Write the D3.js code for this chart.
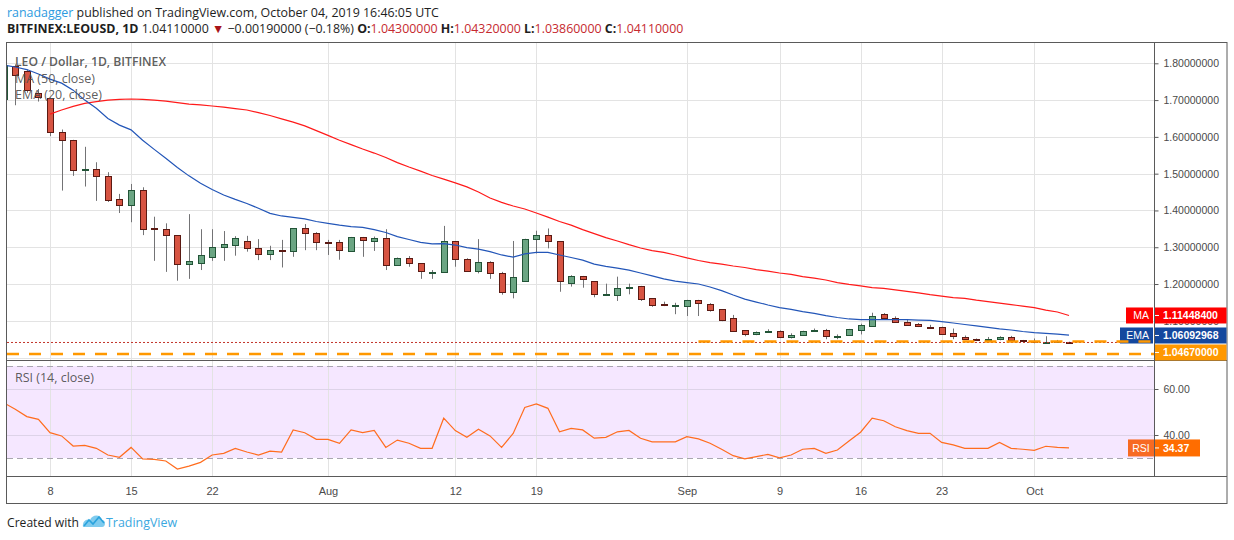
<!DOCTYPE html>
<html>
<head>
<meta charset="utf-8">
<script src="https://cdn.jsdelivr.net/npm/d3@7"></script>
<style>
  body { margin: 0; background: #fff; }
  svg { display: block; }
</style>
</head>
<body>
<svg id="chart" width="1234" height="540"></svg>
<script>
// ---- data ----
const dates = [
  "2019-07-04","2019-07-05","2019-07-06","2019-07-07","2019-07-08","2019-07-09","2019-07-10","2019-07-11","2019-07-12","2019-07-13",
  "2019-07-14","2019-07-15","2019-07-16","2019-07-17","2019-07-18","2019-07-19","2019-07-20","2019-07-21","2019-07-22","2019-07-23",
  "2019-07-24","2019-07-25","2019-07-26","2019-07-27","2019-07-28","2019-07-29","2019-07-30","2019-07-31",
  "2019-08-01","2019-08-02","2019-08-03","2019-08-04","2019-08-05","2019-08-06","2019-08-07","2019-08-08","2019-08-09","2019-08-10",
  "2019-08-11","2019-08-12","2019-08-13","2019-08-14","2019-08-15","2019-08-16","2019-08-17","2019-08-18","2019-08-19","2019-08-20",
  "2019-08-21","2019-08-22","2019-08-23","2019-08-24","2019-08-25","2019-08-26","2019-08-27","2019-08-28","2019-08-29","2019-08-30","2019-08-31",
  "2019-09-01","2019-09-02","2019-09-03","2019-09-04","2019-09-05","2019-09-06","2019-09-07","2019-09-08","2019-09-09","2019-09-10",
  "2019-09-11","2019-09-12","2019-09-13","2019-09-14","2019-09-15","2019-09-16","2019-09-17","2019-09-18","2019-09-19","2019-09-20",
  "2019-09-21","2019-09-22","2019-09-23","2019-09-24","2019-09-25","2019-09-26","2019-09-27","2019-09-28","2019-09-29","2019-09-30",
  "2019-10-01","2019-10-02","2019-10-03","2019-10-04"
];

const open = [
  1.703,1.793,1.780,1.718,1.705,1.612,1.591,1.511,1.512,1.493,
  1.431,1.414,1.455,1.352,1.349,1.332,1.253,1.256,1.275,1.301,
  1.307,1.316,1.297,1.281,1.293,1.289,1.351,1.338,
  1.314,1.313,1.290,1.327,1.315,1.324,1.251,1.270,1.256,1.232,
  1.232,1.316,1.267,1.235,1.260,1.229,1.177,1.207,1.322,1.332,
  1.316,1.202,1.221,1.207,1.170,1.171,1.190,1.194,1.161,1.146,1.140,
  1.141,1.156,1.147,1.131,1.107,1.074,1.063,1.069,1.072,1.056,
  1.061,1.071,1.074,1.057,1.060,1.076,1.086,1.119,1.109,1.098,
  1.091,1.084,1.083,1.066,1.055,1.051,1.049,1.050,1.055,1.047,
  1.044,1.040,1.043,1.0430
];
const high = [
  1.800,1.797,1.783,1.730,1.707,1.620,1.592,1.573,1.531,1.504,
  1.445,1.472,1.463,1.383,1.365,1.333,1.390,1.349,1.349,1.344,
  1.330,1.331,1.322,1.304,1.320,1.352,1.363,1.341,
  1.320,1.320,1.328,1.328,1.329,1.349,1.272,1.276,1.257,1.238,
  1.358,1.317,1.270,1.322,1.262,1.233,1.317,1.323,1.345,1.351,
  1.317,1.224,1.222,1.208,1.201,1.220,1.201,1.195,1.162,1.152,1.149,
  1.157,1.157,1.148,1.132,1.116,1.075,1.071,1.077,1.074,1.066,
  1.073,1.079,1.078,1.063,1.078,1.092,1.122,1.121,1.112,1.102,
  1.094,1.089,1.084,1.079,1.060,1.052,1.056,1.058,1.059,1.048,
  1.052,1.058,1.048,1.0432
];
const low = [
  1.690,1.686,1.720,1.696,1.602,1.454,1.494,1.465,1.426,1.423,
  1.393,1.368,1.333,1.263,1.233,1.209,1.214,1.238,1.263,1.263,
  1.277,1.288,1.265,1.265,1.245,1.274,1.292,1.292,
  1.279,1.266,1.288,1.274,1.290,1.238,1.250,1.247,1.214,1.214,
  1.231,1.247,1.235,1.229,1.214,1.171,1.161,1.206,1.283,1.297,
  1.179,1.193,1.190,1.164,1.169,1.154,1.172,1.154,1.138,1.140,1.118,
  1.113,1.113,1.125,1.099,1.072,1.058,1.061,1.068,1.053,1.052,
  1.060,1.070,1.050,1.050,1.059,1.063,1.085,1.105,1.097,1.086,
  1.083,1.078,1.064,1.050,1.048,1.048,1.044,1.047,1.043,1.042,
  1.039,1.038,1.040,1.0386
];
const close = [
  1.795,1.768,1.729,1.708,1.613,1.591,1.509,1.513,1.493,1.429,
  1.414,1.455,1.350,1.349,1.332,1.253,1.262,1.278,1.302,1.308,
  1.325,1.296,1.280,1.293,1.291,1.351,1.338,1.313,
  1.311,1.290,1.327,1.318,1.324,1.251,1.270,1.256,1.233,1.234,
  1.316,1.267,1.235,1.259,1.229,1.177,1.218,1.322,1.332,1.315,
  1.207,1.221,1.213,1.171,1.173,1.190,1.193,1.158,1.141,1.144,1.142,
  1.156,1.147,1.130,1.100,1.073,1.062,1.069,1.073,1.055,1.061,
  1.071,1.075,1.058,1.060,1.077,1.089,1.114,1.109,1.099,1.090,
  1.085,1.083,1.065,1.059,1.050,1.050,1.051,1.055,1.047,1.043,
  1.040,1.043,1.044,1.0411
];

// MA 50 starts on Jul 8
const maStart = "2019-07-08";
const ma50 = [
  1.662,1.673,1.683,1.691,1.696,1.700,1.702,1.703,1.702,1.700,
  1.697,1.693,1.689,1.687,1.684,1.681,1.677,1.673,1.666,1.658,
  1.649,1.640,1.630,1.617,1.604,1.591,1.579,1.567,1.556,1.544,
  1.530,1.518,1.507,1.495,1.485,1.475,1.464,1.450,1.434,1.422,
  1.412,1.404,1.393,1.382,1.370,1.360,1.348,1.337,1.326,1.317,
  1.307,1.298,1.291,1.286,1.279,1.271,1.264,1.258,1.254,1.249,
  1.245,1.239,1.235,1.230,1.226,1.220,1.216,1.211,1.204,1.199,
  1.195,1.190,1.188,1.184,1.180,1.176,1.171,1.167,1.163,1.161,
  1.156,1.152,1.148,1.144,1.140,1.136,1.129,1.124,1.114484
];

// EMA 20, one value per date
const ema20 = [
  1.795,1.790,1.783,1.771,
  1.757,1.746,1.727,1.700,1.678,1.650,1.632,1.619,1.591,1.566,
  1.542,1.517,1.494,1.474,1.457,1.442,1.430,1.419,1.406,1.392,
  1.385,1.381,1.377,1.370,1.365,1.360,1.356,1.354,1.348,1.340,
  1.329,1.321,1.313,1.309,1.310,1.306,1.299,1.295,1.288,1.279,
  1.273,1.282,1.286,1.286,1.279,1.272,1.265,1.254,1.248,1.243,
  1.238,1.230,1.222,1.214,1.208,1.204,1.200,1.192,1.182,1.170,
  1.159,1.151,1.143,1.136,1.131,1.125,1.120,1.114,1.109,1.105,
  1.103,1.103,1.103,1.103,1.103,1.102,1.101,1.098,1.094,1.090,
  1.086,1.082,1.078,1.075,1.071,1.068,1.066,1.064,1.06092968
];

// RSI 14, one value per date
const rsi14 = [
  54.0,51.2,48.0,46.8,
  41.0,39.6,35.2,35.5,34.2,31.3,30.3,34.6,29.6,29.4,
  28.7,25.2,26.5,28.1,31.3,32.0,34.2,32.6,31.3,33.0,
  32.6,42.2,41.0,38.1,38.1,36.4,42.2,41.0,42.0,34.6,
  37.8,36.4,34.2,34.2,47.3,41.9,39.0,42.5,39.6,34.6,
  40.7,52.0,53.5,51.6,41.4,42.9,42.2,38.6,39.0,41.4,
  42.0,38.6,37.0,37.0,37.0,39.3,38.3,36.4,33.8,31.0,
  29.6,30.6,31.6,30.1,31.3,33.8,34.2,32.0,33.5,37.4,
  41.2,47.3,46.2,43.6,41.9,40.7,40.7,36.8,35.7,34.2,
  34.2,34.2,36.8,34.2,33.8,33.3,35.1,34.6,34.37
];

// horizontal drawings: support ray from Sep 2 and a lower full-width line
const supportLevel = 1.0467;
const supportFrom = "2019-09-02";
const lowerLevel = 1.0096;
const lastPrice = 1.0411;

// axis ticks
const tickDates = ["2019-07-08","2019-07-15","2019-07-22","2019-08-01","2019-08-12","2019-08-19",
                   "2019-09-01","2019-09-09","2019-09-16","2019-09-23","2019-10-01"];
const tickLabels = ["8","15","22","Aug","12","19","Sep","9","16","23","Oct"];
const priceTicks = [1.1, 1.2, 1.3, 1.4, 1.5, 1.6, 1.7, 1.8];
const priceGrid = [1.0, 1.1, 1.2, 1.3, 1.4, 1.5, 1.6, 1.7, 1.8];
const rsiTicks = [40, 60];

// ---- layout ----
const L = 7, R = 1154, RA = 1227;
const mainTop = 42, mainBot = 359.5, rsiBot = 476, axisBot = 503;

const parse = d3.utcParse("%Y-%m-%d");
const days = dates.map(parse);

const x = d3.scaleUtc()
  .domain([parse("2019-07-08"), parse("2019-10-04")])
  .range([50, 1069]);
const y = d3.scaleLinear().domain([1.0, 1.8]).range([357.6, 63.3]);
const yR = d3.scaleLinear().domain([30, 70]).range([458, 366]);

const svg = d3.select("#chart");
const defs = svg.append("defs");
defs.append("clipPath").attr("id", "clipMain")
  .append("rect").attr("x", L).attr("y", mainTop).attr("width", R - L).attr("height", mainBot - mainTop);
defs.append("clipPath").attr("id", "clipRsi")
  .append("rect").attr("x", L).attr("y", mainBot).attr("width", R - L).attr("height", rsiBot - mainBot);

const FONT = "'Open Sans', 'Liberation Sans', sans-serif";
const AXF = "'Liberation Sans', Arial, sans-serif";

// ---- header: one text per line, pieces as tspans ----
function line(yp, parts) {
  const t = svg.append("text")
    .attr("x", 7).attr("y", yp)
    .style("font-family", FONT).style("font-size", "12.4px")
    .style("fill", "#1e1e1e");
  parts.forEach(p => {
    t.append("tspan")
      .style("fill", p[1] || "#1e1e1e")
      .style("font-weight", p[2] || 400)
      .text(p[0]);
  });
}
line(17, [
  ["ranadagger", "#2e9be0"],
  [" published on TradingView.com, October 04, 2019 16:46:05 UTC"]
]);
line(33, [
  ["BITFINEX:LEOUSD, 1D", null, 700],
  [" 1.04110000 "],
  ["\u25BC", "#a8141a"],
  [" \u22120.00190000 (\u22120.18%) "],
  ["O:", null, 700], ["1.04300000 ", "#c62a2f"],
  ["H:", null, 700], ["1.04320000 ", "#c62a2f"],
  ["L:", null, 700], ["1.03860000 ", "#c62a2f"],
  ["C:", null, 700], ["1.04110000", "#c62a2f"]
]);

// ---- backgrounds and grid ----
// RSI band 30..70
svg.append("rect")
  .attr("x", L).attr("width", R - L)
  .attr("y", yR(70)).attr("height", yR(30) - yR(70))
  .attr("fill", "rgba(153,21,255,0.1)");

const tickDays = tickDates.map(parse);
svg.selectAll(".vgrid").data(tickDays).enter()
  .append("line").attr("class", "vgrid")
  .attr("x1", d => Math.round(x(d)) + 0.5).attr("x2", d => Math.round(x(d)) + 0.5)
  .attr("y1", mainTop).attr("y2", rsiBot)
  .attr("stroke", "#e3e3e3").attr("stroke-width", 1);

svg.selectAll(".hgrid").data(priceGrid).enter()
  .append("line").attr("class", "hgrid")
  .attr("x1", L).attr("x2", R)
  .attr("y1", d => Math.round(y(d)) + 0.5).attr("y2", d => Math.round(y(d)) + 0.5)
  .attr("stroke", "#e3e3e3");

svg.selectAll(".rgrid").data(rsiTicks).enter()
  .append("line").attr("class", "rgrid")
  .attr("x1", L).attr("x2", R)
  .attr("y1", d => Math.round(yR(d)) + 0.5).attr("y2", d => Math.round(yR(d)) + 0.5)
  .attr("stroke", "#ddd3e8");

svg.selectAll(".rband").data([70, 30]).enter()
  .append("line").attr("class", "rband")
  .attr("x1", L).attr("x2", R)
  .attr("y1", d => Math.round(yR(d)) + 0.5).attr("y2", d => Math.round(yR(d)) + 0.5)
  .attr("stroke", "#a9a6b0").attr("stroke-dasharray", "6,4");

// ---- candles ----
const candles = days.map((d, i) => ({ d: d, o: open[i], h: high[i], l: low[i], c: close[i] }));
const main = svg.append("g").attr("clip-path", "url(#clipMain)");

main.selectAll(".wick").data(candles).enter()
  .append("line").attr("class", "wick")
  .attr("x1", d => Math.round(x(d.d)) + 0.5).attr("x2", d => Math.round(x(d.d)) + 0.5)
  .attr("y1", d => y(d.h)).attr("y2", d => y(d.l))
  .attr("stroke", "#737375").attr("stroke-width", 1);

main.selectAll(".body").data(candles).enter()
  .append("rect").attr("class", "body")
  .attr("x", d => Math.round(x(d.d)) - 2.5)
  .attr("width", 6)
  .attr("y", d => Math.round(y(Math.max(d.o, d.c))) + 0.5)
  .attr("height", d => Math.max(1, Math.round(Math.abs(y(d.o) - y(d.c)))))
  .attr("fill", d => d.c >= d.o ? "#6ba583" : "#d75442")
  .attr("stroke", d => d.c >= d.o ? "#225437" : "#5b1a13")
  .attr("stroke-width", 1);

// ---- moving averages ----
const maFirst = dates.indexOf(maStart);
const maLine = d3.line().x((d, i) => x(days[i + maFirst])).y(d => y(d));
main.append("path").datum(ma50)
  .attr("d", maLine)
  .attr("fill", "none").attr("stroke", "#ff1a1a").attr("stroke-width", 1.2);

const emaLine = d3.line().x((d, i) => x(days[i])).y(d => y(d));
main.append("path").datum(ema20)
  .attr("d", emaLine)
  .attr("fill", "none").attr("stroke", "#2356b8").attr("stroke-width", 1.2);

// last price dotted line
main.append("line")
  .attr("x1", L).attr("x2", R)
  .attr("y1", y(lastPrice)).attr("y2", y(lastPrice))
  .attr("stroke", "#c2342a").attr("stroke-dasharray", "2,2");

// ---- legend texts ----
function legend(yp, str, w, weight) {
  svg.append("text")
    .attr("x", 15).attr("y", yp)
    .attr("textLength", w).attr("lengthAdjust", "spacingAndGlyphs")
    .style("font-family", FONT).style("font-size", "13px")
    .style("font-weight", weight || 400)
    .style("fill", "#4a4a4a").style("fill-opacity", 0.9)
    .text(str);
}
legend(66, "LEO / Dollar, 1D, BITFINEX", 151, 600);
legend(82.5, "MA (50, close)", 80);
legend(99, "EMA (20, close)", 87);
legend(382, "RSI (14, close)", 79);

// ---- RSI line ----
const rsiG = svg.append("g").attr("clip-path", "url(#clipRsi)");
rsiG.append("path").datum(rsi14)
  .attr("d", d3.line().x((d, i) => x(days[i])).y(d => yR(d)))
  .attr("fill", "none").attr("stroke", "#ff6d1f").attr("stroke-width", 1.2);

// ---- frame ----
svg.append("rect")
  .attr("x", 6.5).attr("y", mainTop + 0.5)
  .attr("width", RA - 6.5).attr("height", axisBot - mainTop)
  .attr("fill", "none").attr("stroke", "#5a5a5a");
[mainBot, rsiBot].forEach(v => {
  svg.append("line").attr("x1", 6.5).attr("x2", RA).attr("y1", Math.round(v) + 0.5).attr("y2", Math.round(v) + 0.5)
    .attr("stroke", "#5a5a5a");
});
svg.append("line").attr("x1", R + 0.5).attr("x2", R + 0.5).attr("y1", mainTop).attr("y2", rsiBot)
  .attr("stroke", "#5a5a5a");

// ---- axes ----
const priceAxis = d3.axisRight(y).tickValues(priceTicks).tickSize(4).tickPadding(5)
  .tickFormat(d3.format(".8f"));
const pa = svg.append("g").attr("transform", `translate(${R + 0.5},0)`).call(priceAxis);
pa.select(".domain").remove();
pa.selectAll("line").attr("stroke", "#5a5a5a");
pa.selectAll("text").style("font-family", AXF).style("font-size", "10.5px").style("fill", "#4a4a4a");

const rsiAxis = d3.axisRight(yR).tickValues(rsiTicks).tickSize(4).tickPadding(5)
  .tickFormat(d3.format(".2f"));
const ra = svg.append("g").attr("transform", `translate(${R + 0.5},0)`).call(rsiAxis);
ra.select(".domain").remove();
ra.selectAll("line").attr("stroke", "#5a5a5a");
ra.selectAll("text").style("font-family", AXF).style("font-size", "10.5px").style("fill", "#4a4a4a");

const timeAxis = d3.axisBottom(x).tickValues(tickDays).tickSize(0).tickPadding(10)
  .tickFormat((d, i) => tickLabels[i]);
const ta = svg.append("g").attr("transform", `translate(0,${rsiBot + 1})`).call(timeAxis);
ta.select(".domain").remove();
ta.selectAll("text").style("font-family", AXF).style("font-size", "11px").style("fill", "#4a4a4a");

// ---- value labels on the price scale ----
function tag(yc, txt, bg, name, nameX) {
  svg.append("rect").attr("x", R + 1).attr("y", yc - 8).attr("width", RA - R - 1.5).attr("height", 16).attr("fill", bg);
  svg.append("line").attr("x1", R + 1).attr("x2", R + 5).attr("y1", yc).attr("y2", yc).attr("stroke", "#fff");
  svg.append("text").attr("x", R + 9).attr("y", yc).attr("dy", "0.35em")
    .style("font-family", AXF).style("font-size", "10.5px").style("font-weight", 700).style("fill", "#fff").text(txt);
  if (name) {
    svg.append("rect").attr("x", nameX).attr("y", yc - 8).attr("width", R - 1 - nameX).attr("height", 16).attr("fill", bg);
    svg.append("text").attr("x", R - 5).attr("y", yc).attr("dy", "0.35em").attr("text-anchor", "end")
      .style("font-family", AXF).style("font-size", "10.5px").style("fill", "#fff").text(name);
  }
}
const maY = y(ma50[ma50.length - 1]);
const emaY = Math.max(y(ema20[ema20.length - 1]) - 0.6, maY + 20);
tag(maY, d3.format(".8f")(ma50[ma50.length - 1]), "#ff0000", "MA", 1126);
tag(emaY, d3.format(".8f")(ema20[ema20.length - 1]), "#14489e", "EMA", 1120);
tag(emaY + 17, d3.format(".8f")(supportLevel), "#ff9800");

// RSI tag
const rsiLast = rsi14[rsi14.length - 1];
svg.append("rect").attr("x", 1128).attr("y", yR(rsiLast) - 8.5).attr("width", 26).attr("height", 17).attr("fill", "#f76a22");
svg.append("text").attr("x", 1141).attr("y", yR(rsiLast)).attr("dy", "0.35em").attr("text-anchor", "middle")
  .style("font-family", AXF).style("font-size", "10.5px").style("fill", "#fff").text("RSI");
svg.append("rect").attr("x", R + 1).attr("y", yR(rsiLast) - 8.5).attr("width", 45).attr("height", 17).attr("fill", "#ff6d00");
svg.append("line").attr("x1", R + 1).attr("x2", R + 5).attr("y1", yR(rsiLast)).attr("y2", yR(rsiLast)).attr("stroke", "#fff");
svg.append("text").attr("x", R + 9).attr("y", yR(rsiLast)).attr("dy", "0.35em")
  .style("font-family", AXF).style("font-size", "10.5px").style("font-weight", 700).style("fill", "#fff")
  .text(d3.format(".2f")(rsiLast));

// ---- horizontal drawings (on top) ----
const draw = svg.append("g").attr("clip-path", "url(#clipMain)");
draw.append("line")
  .attr("x1", x(parse(supportFrom))).attr("x2", R)
  .attr("y1", y(supportLevel) + 1).attr("y2", y(supportLevel) + 1)
  .attr("stroke", "#ff9800").attr("stroke-width", 2.5).attr("stroke-dasharray", "12,10");
draw.append("line")
  .attr("x1", L).attr("x2", R)
  .attr("y1", y(lowerLevel)).attr("y2", y(lowerLevel))
  .attr("stroke", "#ff9800").attr("stroke-width", 2.5).attr("stroke-dasharray", "12,10");

// ---- footer ----
svg.append("text").attr("x", 7).attr("y", 527)
  .attr("textLength", 72).attr("lengthAdjust", "spacingAndGlyphs")
  .style("font-family", FONT).style("font-size", "13px").style("fill", "#1e1e1e")
  .text("Created with");
svg.append("path")
  .attr("d", "M83,527 C82,521 87,518 90,520 C92,514 101,514 102,520 C106,520 106,527 102,527 Z")
  .attr("fill", "#7fcbee");
svg.append("path")
  .attr("d", "M84,526 L89,520 L93,524 L99,517 L104,523")
  .attr("fill", "none").attr("stroke", "#2aa3dd").attr("stroke-width", 1.6);
svg.append("text").attr("x", 106).attr("y", 527)
  .attr("textLength", 71).attr("lengthAdjust", "spacingAndGlyphs")
  .style("font-family", FONT).style("font-size", "13px").style("fill", "#3ba8e0")
  .text("TradingView");
</script>
</body>
</html>
